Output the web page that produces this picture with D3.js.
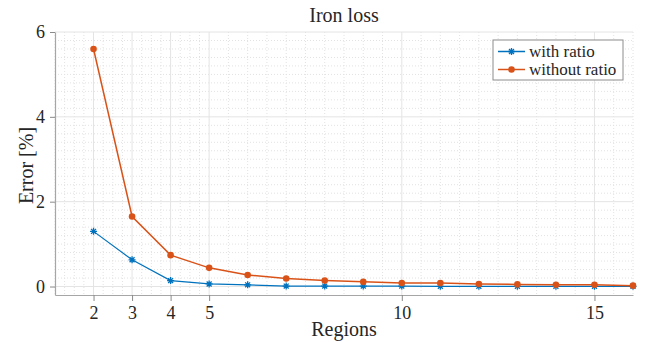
<!DOCTYPE html>
<html>
<head>
<meta charset="utf-8">
<script src="https://cdn.jsdelivr.net/npm/d3@7"></script>
<style>
  html, body { margin: 0; padding: 0; background: #fff; }
  svg text { font-family: "Liberation Serif", "Times New Roman", serif; fill: #262626; }
</style>
</head>
<body>
<svg id="chart" width="654" height="342"></svg>
<script>
// Iron loss error versus number of regions
const regions = [2, 3, 4, 5, 6, 7, 8, 9, 10, 11, 12, 13, 14, 15, 16];
const withRatio = [1.30, 0.63, 0.14, 0.06, 0.04, 0.01, 0.01, 0.01, 0.01, 0.005, 0.005, 0.005, 0.005, 0.005, 0.005];
const withoutRatio = [5.60, 1.65, 0.74, 0.44, 0.27, 0.19, 0.14, 0.11, 0.08, 0.08, 0.06, 0.05, 0.04, 0.04, 0.02];
const seriesNames = ["with ratio", "without ratio"];
const xTicks = [2, 3, 4, 5, 10, 15];
const yTicks = [0, 2, 4, 6];

const serif = "Liberation Serif, Times New Roman, serif";
const svg = d3.select("#chart");
const plotL = 55, plotR = 633, plotT = 32, plotB = 295;

const x = d3.scaleLinear().domain([1, 16]).range([plotL, plotR]);
const y = d3.scaleLinear().domain([-0.2, 6]).range([plotB, plotT]);

// minor grid: quarter steps up to 5, half steps after
const xMinor = d3.range(1, 5, 0.25).concat(d3.range(5, 16.01, 0.5)).filter(v => !xTicks.includes(v));
const yMinor = d3.range(0, 6.01, 0.2).map(v => +v.toFixed(2)).filter(v => !yTicks.includes(v));

const grid = svg.append("g");
grid.selectAll(".xm").data(xMinor).join("line")
  .attr("x1", d => x(d)).attr("x2", d => x(d)).attr("y1", plotT).attr("y2", plotB)
  .attr("stroke", "#e2e2e2").attr("stroke-width", 1).attr("stroke-dasharray", "1,2");
grid.selectAll(".ym").data(yMinor).join("line")
  .attr("x1", plotL).attr("x2", plotR).attr("y1", d => y(d)).attr("y2", d => y(d))
  .attr("stroke", "#e2e2e2").attr("stroke-width", 1).attr("stroke-dasharray", "1,2");
grid.selectAll(".xM").data(xTicks).join("line")
  .attr("x1", d => x(d)).attr("x2", d => x(d)).attr("y1", plotT).attr("y2", plotB)
  .attr("stroke", "#e4e4e4").attr("stroke-width", 1);
grid.selectAll(".yM").data(yTicks).join("line")
  .attr("x1", plotL).attr("x2", plotR).attr("y1", d => y(d)).attr("y2", d => y(d))
  .attr("stroke", "#e4e4e4").attr("stroke-width", 1);

// axes
const xAxis = svg.append("g").attr("transform", `translate(0,${plotB})`)
  .call(d3.axisBottom(x).tickValues(xTicks).tickFormat(d3.format("d"))
    .tickSizeInner(6).tickSizeOuter(0).tickPadding(5));
const yAxis = svg.append("g").attr("transform", `translate(${plotL},0)`)
  .call(d3.axisLeft(y).tickValues(yTicks).tickFormat(d3.format("d"))
    .tickSizeInner(5).tickSizeOuter(0).tickPadding(5));
[xAxis, yAxis].forEach(g => {
  g.attr("font-family", serif).attr("font-size", 18);
  g.select(".domain").attr("stroke", "#a6a6a6").attr("stroke-width", 1.2);
  g.selectAll(".tick line").attr("stroke", "#8a8a8a");
  g.selectAll(".tick text").attr("fill", "#262626");
});

// series
const colors = ["#0072BD", "#D95319"];
const data = [withRatio, withoutRatio];
const line = d3.line().x((d, i) => x(regions[i])).y(d => y(d));

data.forEach((vals, k) => {
  svg.append("path").datum(vals)
    .attr("d", line).attr("fill", "none")
    .attr("stroke", colors[k]).attr("stroke-width", k === 0 ? 1.2 : 1.5);
});

const starPath = (cx, cy, r) => {
  let p = "";
  for (let a = 0; a < 4; a++) {
    const ang = a * Math.PI / 4;
    const dx = Math.cos(ang) * r, dy = Math.sin(ang) * r;
    p += `M${cx - dx},${cy - dy}L${cx + dx},${cy + dy}`;
  }
  return p;
};

svg.append("g").selectAll("path").data(withRatio).join("path")
  .attr("d", (d, i) => starPath(x(regions[i]), y(d), 3.5))
  .attr("stroke", colors[0]).attr("stroke-width", 1.3).attr("fill", "none");
svg.append("g").selectAll("circle").data(withoutRatio).join("circle")
  .attr("cx", (d, i) => x(regions[i])).attr("cy", d => y(d)).attr("r", 3.3)
  .attr("fill", colors[1]);

// title and axis labels
svg.append("text").attr("x", (plotL + plotR) / 2).attr("y", 22).attr("text-anchor", "middle")
  .attr("font-family", serif).attr("font-size", 20).text("Iron loss");
svg.append("text").attr("x", (plotL + plotR) / 2).attr("y", 336).attr("text-anchor", "middle")
  .attr("font-family", serif).attr("font-size", 20).text("Regions");
svg.append("text").attr("transform", `translate(33,${(plotT + plotB) / 2 + 2}) rotate(-90)`)
  .attr("text-anchor", "middle").attr("font-family", serif).attr("font-size", 20).text("Error [%]");

// legend
const lg = svg.append("g").attr("transform", "translate(493,40)");
lg.append("rect").attr("width", 130).attr("height", 40)
  .attr("fill", "#fff").attr("stroke", "#8c8c8c").attr("stroke-width", 1);
seriesNames.forEach((name, k) => {
  const cy = 11.5 + k * 18;
  lg.append("line").attr("x1", 5).attr("x2", 32).attr("y1", cy).attr("y2", cy)
    .attr("stroke", colors[k]).attr("stroke-width", 1.5);
  if (k === 0) {
    lg.append("path").attr("d", starPath(18.5, cy, 3.5)).attr("stroke", colors[0]).attr("stroke-width", 1.3);
  } else {
    lg.append("circle").attr("cx", 18.5).attr("cy", cy).attr("r", 3.3).attr("fill", colors[1]);
  }
  lg.append("text").attr("x", 36).attr("y", cy + 5)
    .attr("font-family", serif).attr("font-size", 17).text(name);
});
</script>
</body>
</html>
